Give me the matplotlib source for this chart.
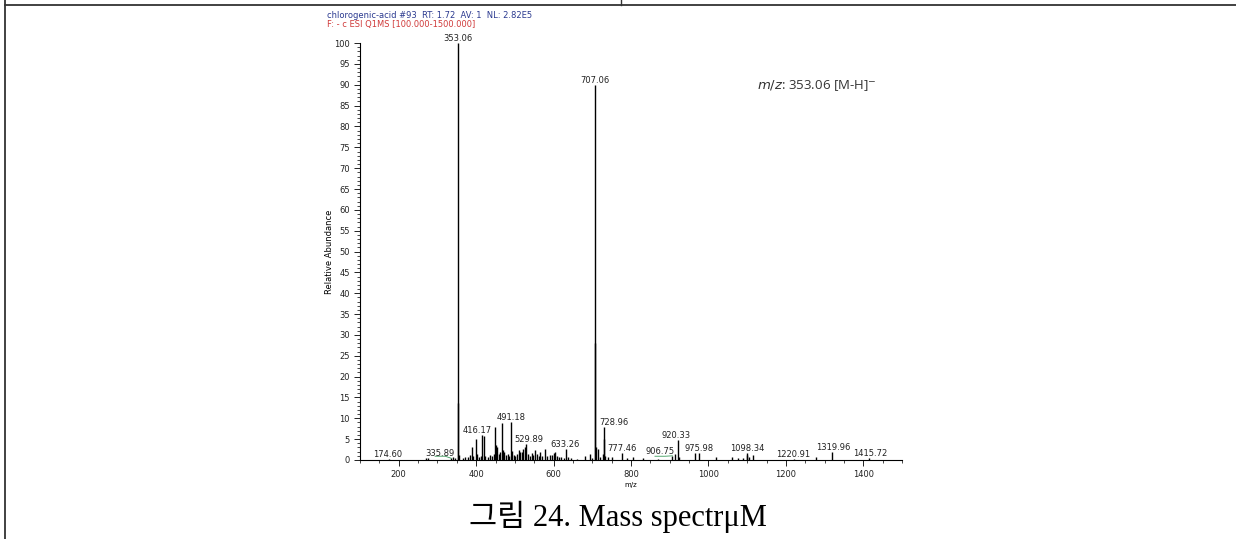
import matplotlib.pyplot as plt
from matplotlib.lines import Line2D

# 피크 목록 (m/z, 상대 강도 %)
mz = [174.60, 270, 275, 335.89, 340, 345,
      353.06, 354.06, 355.0,
      365, 372, 378, 385, 389, 393, 398.9, 402, 407, 412, 416.17, 419.2,
      424, 430, 436, 441, 446, 449.5, 451, 454, 458, 462, 467, 469, 473,
      477, 481, 485, 491.18, 493, 497, 501, 506, 510, 514, 518, 522, 526,
      529.89, 533, 538, 543, 548, 552, 557, 562, 566, 571, 578, 584, 590,
      596, 600, 603.6, 608, 613, 620, 626, 633.26, 638, 645, 660, 680, 693,
      700, 707.06, 708.06, 709, 715, 721, 727, 728.96, 730, 733, 740, 750,
      777.46, 790, 806, 830, 870, 906.75, 913, 920.33, 925, 965, 975.98,
      1020, 1060, 1075, 1090, 1098.34, 1100, 1104, 1115, 1220.91, 1278,
      1319.96, 1415.72]
intensity = [0.3, 0.5, 0.4, 0.4, 0.6, 0.5,
             100, 13.6, 1.2,
             0.5, 0.8, 0.6, 1.2, 3.0, 1.0, 5.0, 1.5, 0.8, 1.0, 6.1, 5.8,
             1.0, 0.7, 1.3, 1.0, 1.5, 8.0, 3.6, 3.0, 1.5, 2.0, 8.9, 2.5, 1.8,
             1.2, 1.5, 1.0, 9.1, 2.2, 1.3, 1.0, 1.5, 2.5, 1.8, 2.0, 2.6, 3.0,
             3.8, 1.5, 1.0, 1.6, 1.2, 2.5, 1.4, 1.0, 1.8, 1.0, 2.7, 1.0, 1.2,
             1.3, 1.6, 2.0, 1.0, 0.8, 0.6, 0.5, 2.6, 0.8, 0.5, 0.3, 1.0, 1.4,
             0.5, 90, 28, 3.0, 2.6, 0.8, 1.5, 8.0, 5.0, 1.0, 0.8, 0.6,
             1.6, 0.4, 0.6, 0.4, 0.3, 1.0, 1.5, 4.8, 0.6, 1.6, 1.6,
             0.7, 0.7, 0.4, 0.5, 1.6, 1.1, 0.6, 1.1, 0.3, 0.6,
             1.9, 0.4]

# 표시할 피크 라벨과 라벨의 가로 이동량 (m/z 단위)
label_mz = [174.60, 335.89, 353.06, 416.17, 491.18, 529.89, 633.26, 707.06,
            728.96, 777.46, 906.75, 920.33, 975.98, 1098.34, 1220.91,
            1319.96, 1415.72]
label_dx = [-3, -30, 0, -13, 0, 6, -3, 0, 28, -2, -33, -3, 0, 2, -2, 2, 3]

x_ticks = [200, 400, 600, 800, 1000, 1200, 1400]
y_ticks = list(range(0, 101, 5))

fig = plt.figure(figsize=(12.36, 5.39), dpi=100)
ax = fig.add_axes([0.2913, 0.1466, 0.4385, 0.7734])

ax.vlines(mz, 0, intensity, color='black', linewidth=1.0)

peak_h = dict(zip(mz, intensity))
for m, dx in zip(label_mz, label_dx):
    ax.annotate(f'{m:.2f}', xy=(m, peak_h[m]), xytext=(m + dx, peak_h[m]),
                textcoords='data', ha='center', va='bottom', fontsize=6,
                color='#222222', annotation_clip=False)
    if abs(dx) > 20 and m < 1000 and peak_h[m] < 2:
        # 녹색 밑줄 표시선
        ax.plot([m + dx - 12, m + dx + 14, m], [0.9, 0.9, peak_h[m]],
                color='#3a9a5a', linewidth=0.6)

ax.set_xlim(100, 1500)
ax.set_ylim(0, 100)
ax.set_xticks(x_ticks)
ax.set_xticks(range(100, 1501, 50), minor=True)
ax.set_yticks(y_ticks)
ax.set_yticks(range(0, 101, 1), minor=True)
ax.tick_params(axis='both', labelsize=6, colors='#222222', direction='out',
               length=4, width=0.7)
ax.tick_params(axis='both', which='minor', length=2, width=0.5)
for s in ['top', 'right']:
    ax.spines[s].set_visible(False)
for s in ['left', 'bottom']:
    ax.spines[s].set_linewidth(0.8)

ax.set_xlabel('m/z', fontsize=5, labelpad=2)
ax.set_ylabel('Relative Abundance', fontsize=6, labelpad=0)

ax.text(0.732, 0.89, r'$\it{m/z}$: 353.06 [M-H]$^{-}$', transform=ax.transAxes,
        fontsize=9.5, color='#333333', family='Open Sans')

fig.text(327 / 1236, 1 - 15 / 539,
         'chlorogenic-acid #93  RT: 1.72  AV: 1  NL: 2.82E5',
         fontsize=6, color='#2b3a90', va='center')
fig.text(327 / 1236, 1 - 25 / 539, 'F: - c ESI Q1MS [100.000-1500.000]',
         fontsize=6, color='#d03a3a', va='center')

fig.text(0.5, 1 - 517 / 539, '그림 24. Mass spectrμM', ha='center',
         va='center', fontsize=22,
         family=['Liberation Serif', 'Noto Sans CJK KR'])

# 표 테두리
fig.add_artist(Line2D([5 / 1236, 1], [1 - 5 / 539] * 2, color='#333333',
                      linewidth=1.3))
fig.add_artist(Line2D([5 / 1236] * 2, [0, 1], color='#333333', linewidth=1.3))
fig.add_artist(Line2D([621 / 1236] * 2, [1 - 5 / 539, 1], color='#333333',
                      linewidth=1.0))

fig.savefig('out.png', dpi=100)
